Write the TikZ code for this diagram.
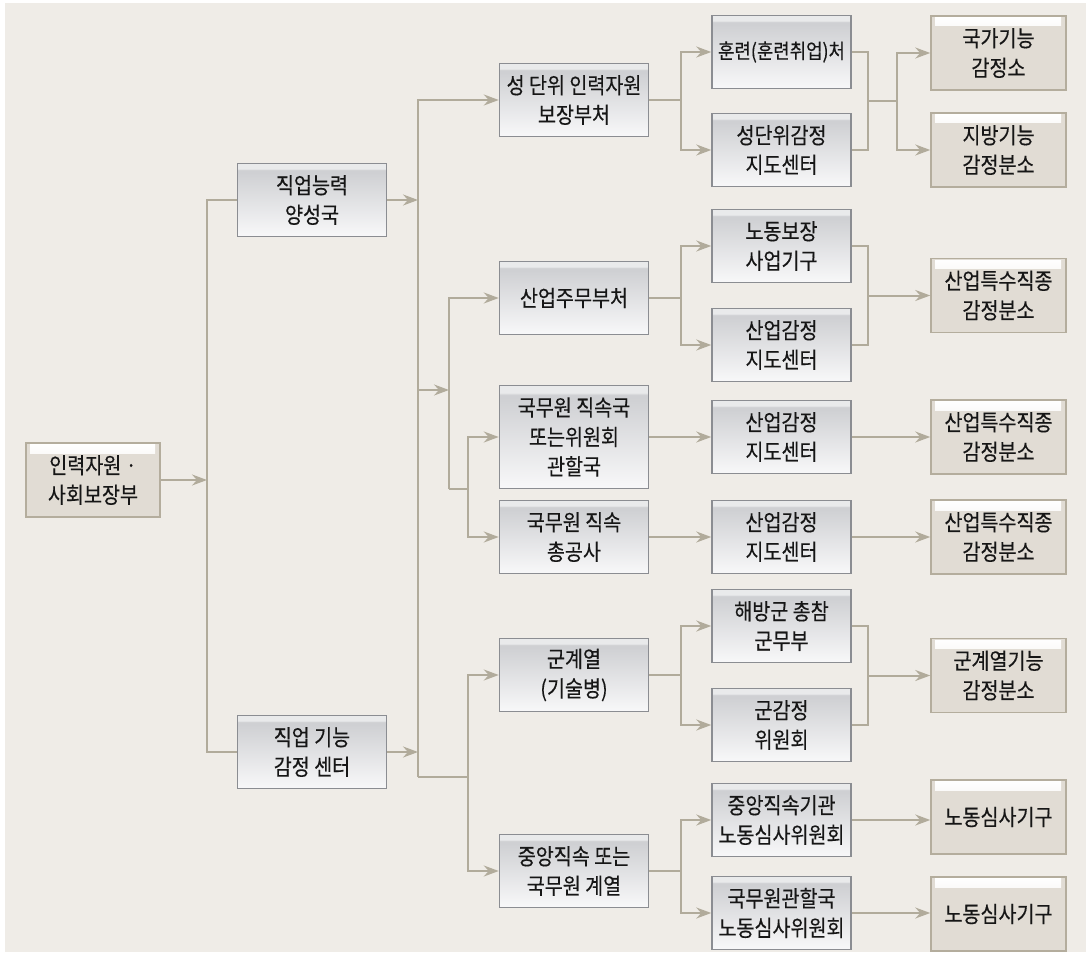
\documentclass[tikz,border=0pt]{standalone}
\usepackage{fontspec}
\setmainfont{Noto Sans CJK KR}[FakeStretch=0.87, FakeBold=0.3]
\usetikzlibrary{arrows.meta}

\definecolor{bgc}{RGB}{239,236,231}
\definecolor{linec}{RGB}{177,171,155}
\definecolor{tanfill}{RGB}{225,220,212}
\definecolor{tanedge}{RGB}{180,173,157}
\definecolor{unitedge}{RGB}{139,141,146}
\definecolor{ushade}{RGB}{207,208,211}
\definecolor{ubot}{RGB}{248,248,249}
\definecolor{uhi}{RGB}{233,234,235}
\definecolor{textc}{RGB}{22,22,22}

% grey boxes: light strip on top, grey fading to white below
\pgfdeclareverticalshading{unitshade}{100bp}{color(0bp)=(ubot); color(25bp)=(ubot);
  color(69bp)=(ushade); color(70.5bp)=(ushade); color(71.5bp)=(uhi); color(75bp)=(uhi); color(100bp)=(uhi)}

\tikzset{
  unit/.style={draw=unitedge, line width=1.5pt, shading=unitshade, minimum width=149pt,
    minimum height=73pt, inner sep=0pt, align=center, text=textc},
  sub/.style={unit, minimum width=139pt},
  office/.style={draw=tanedge, line width=1.5pt, fill=tanfill, minimum width=135pt,
    minimum height=74pt, inner sep=0pt, align=center, text=textc,
    path picture={\fill[top color=white, bottom color=tanfill]
      ([shift={(4pt,-1.5pt)}]path picture bounding box.north west) rectangle
      ([shift={(-5pt,-10pt)}]path picture bounding box.north east);}},
  link/.style={draw=linec, line width=2pt},
  arr/.style={link, -{Stealth[length=15pt,width=11pt,inset=5pt]}},
}

\begin{document}
\begin{tikzpicture}[x=1pt, y=-1pt, node distance=98pt, font=\fontsize{22.5}{29.5}\selectfont]
\useasboundingbox (0,0) rectangle (1086,963);
\fill[white] (0,0) rectangle (1086,963);
\fill[bgc] (5,3) rectangle (1086,952);

% ministry and its two bureaus
\node[office, minimum width=134pt] (root) at (93,480) {인력자원 ·\\사회보장부};
\node[unit] (c1a) at (312,200) {직업능력\\양성국};
\node[unit, below of=c1a, node distance=552pt] (c1b) {직업 기능\\감정 센터};

% departments
\node[unit] (c2a) at (574,100) {성 단위 인력자원\\보장부처};
\node[unit, below of=c2a, node distance=198pt] (c2b) {산업주무부처};
\node[unit, below of=c2b, node distance=139pt, minimum height=103pt] (c2c) {국무원 직속국\\또는위원회\\관할국};
\node[unit, below of=c2c, node distance=100pt] (c2d) {국무원 직속\\총공사};
\node[unit, below of=c2d, node distance=138pt] (c2e) {군계열\\(기술병)};
\node[unit, below of=c2e, node distance=196pt] (c2f) {중앙직속 또는\\국무원 계열};

% guidance centres
\node[sub, font=\fontsize{20.5}{29.5}\selectfont] (c3a) at (781.5,52) {훈련(훈련취업)처};
\node[sub, below of=c3a] (c3b) {성단위감정\\지도센터};
\node[sub, below of=c3b, node distance=96pt] (c3c) {노동보장\\사업기구};
\node[sub, below of=c3c, node distance=99pt] (c3d) {산업감정\\지도센터};
\node[sub, below of=c3d, node distance=92pt] (c3e) {산업감정\\지도센터};
\node[sub, below of=c3e, node distance=100pt] (c3f) {산업감정\\지도센터};
\node[sub, below of=c3f, node distance=89pt] (c3g) {해방군 총참\\군무부};
\node[sub, below of=c3g, node distance=99pt] (c3h) {군감정\\위원회};
\node[sub, below of=c3h, node distance=95pt] (c3i) {중앙직속기관\\노동심사위원회};
\node[sub, below of=c3i, node distance=93pt] (c3j) {국무원관할국\\노동심사위원회};

% testing offices
\node[office] (c4a) at (998.5,53) {국가기능\\감정소};
\node[office, below of=c4a, node distance=97pt] (c4b) {지방기능\\감정분소};
\node[office, below of=c4b, node distance=145.5pt] (c4c) {산업특수직종\\감정분소};
\node[office, below of=c4c, node distance=141.5pt] (c4d) {산업특수직종\\감정분소};
\node[office, below of=c4d, node distance=100pt] (c4e) {산업특수직종\\감정분소};
\node[office, below of=c4e, node distance=138.5pt] (c4f) {군계열기능\\감정분소};
\node[office, below of=c4f, node distance=141.5pt] (c4g) {노동심사기구};
\node[office, below of=c4g, node distance=97pt] (c4h) {노동심사기구};

% ministry -> bureaus
\coordinate (j0) at (207,480);
\draw[arr] (root) -- (j0);
\draw[link] (c1a) -| (j0) |- (c1b);

% bureaus -> departments
\coordinate (b1) at (418,777);
\coordinate (b2) at (468,777);
\coordinate (a1) at (418,390);
\coordinate (a2) at (449,390);
\coordinate (b3) at (449,489);
\coordinate (b4) at (468,489);
\draw[arr] (b1) |- (c2a);
\draw[arr] (c1a) -- (c1a -| b1);
\draw[arr] (c1b) -- (c1b -| b1);
\draw[link] (b1) -- (b2);
\draw[arr] (b2) |- (c2e);
\draw[arr] (b2) |- (c2f);
\draw[arr] (a1) -- (a2);
\draw[arr] (b3) |- (c2b);
\draw[link] (b3) -- (b4);
\draw[arr] (b4) |- (c2c);
\draw[arr] (b4) |- (c2d);

% departments -> centres
\draw[arr] (c2a.east) -- ++(32,0) |- (c3a);
\draw[arr] (c2a.east) -- ++(32,0) |- (c3b);
\draw[arr] (c2b.east) -- ++(32,0) |- (c3c);
\draw[arr] (c2b.east) -- ++(32,0) |- (c3d);
\draw[arr] (c2c) -- (c3e);
\draw[arr] (c2d) -- (c3f);
\draw[arr] (c2e.east) -- ++(32,0) |- (c3g);
\draw[arr] (c2e.east) -- ++(32,0) |- (c3h);
\draw[arr] (c2f.east) -- ++(32,0) |- (c3i);
\draw[arr] (c2f.east) -- ++(32,0) |- (c3j);

% centres -> offices
\coordinate (m1) at (868,101);
\coordinate (m2) at (868,295.5);
\coordinate (m3) at (868,675.5);
\draw[link] (c3a.east) -| (m1) |- (c3b.east);
\draw[link] (m1) -- ++(29,0) coordinate (s1);
\draw[arr] (s1) |- (c4a);
\draw[arr] (s1) |- (c4b);
\draw[link] (c3c.east) -| (m2) |- (c3d.east);
\draw[arr] (m2) -- (c4c);
\draw[arr] (c3e) -- (c4d);
\draw[arr] (c3f) -- (c4e);
\draw[link] (c3g.east) -| (m3) |- (c3h.east);
\draw[arr] (m3) -- (c4f);
\draw[arr] (c3i) -- (c3i -| c4g.west);
\draw[arr] (c3j) -- (c3j -| c4h.west);
\end{tikzpicture}
\end{document}
